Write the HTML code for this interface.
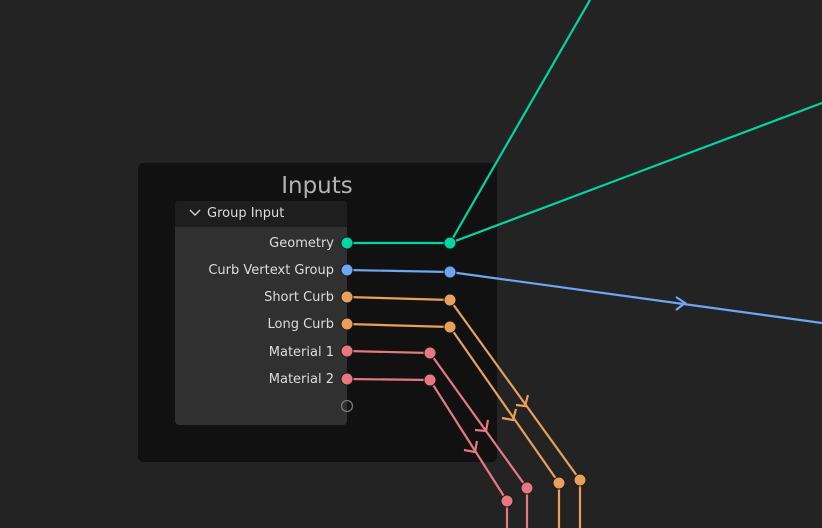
<!DOCTYPE html>
<html><head><style>
html,body{margin:0;padding:0;background:#232323;width:822px;height:528px;overflow:hidden;font-family:"Liberation Sans","DejaVu Sans",sans-serif}
</style></head><body>
<svg width="822" height="528" viewBox="0 0 822 528" xmlns="http://www.w3.org/2000/svg" style="position:absolute;left:0;top:0">
<rect x="0" y="0" width="822" height="528" fill="#232323"/>
<rect x="138" y="163" width="359" height="299" rx="5" fill="#111111"/>
<text x="317" y="193" font-size="23" fill="#b3b3b3" text-anchor="middle" font-family="DejaVu Sans, sans-serif">Inputs</text>
<rect x="175" y="201" width="172" height="224" rx="4" fill="#303030"/>
<path d="M179 201 H343 a4 4 0 0 1 4 4 V227 H175 V205 a4 4 0 0 1 4 -4z" fill="#1e1e1e"/>
<polyline points="190,210 195,215 200,210" fill="none" stroke="#d0d0d0" stroke-width="1.4"/>
<g font-family="DejaVu Sans, sans-serif" font-size="13" fill="#dcdcdc">
<text x="207" y="217">Group Input</text>
<g text-anchor="end">
<text x="334" y="247">Geometry</text>
<text x="334" y="274">Curb Vertext Group</text>
<text x="334" y="301">Short Curb</text>
<text x="334" y="328">Long Curb</text>
<text x="334" y="356">Material 1</text>
<text x="334" y="383">Material 2</text>
</g></g>
<g fill="none" stroke-width="2.2">
<polyline points="347,243 450,243" stroke="#00d6a3"/>
<line x1="450" y1="243" x2="590" y2="0" stroke="#00d6a3"/>
<line x1="450" y1="243" x2="822" y2="103" stroke="#00d6a3"/>
<polyline points="347,270 450,272 822,323" stroke="#6ea6f4"/>
<polyline points="676,297 685,303 676,310" stroke="#6ea6f4"/>
<polyline points="347,297 450,300 580,480 580,528" stroke="#e8a05a"/>
<polyline points="347,324 450,327 559,483 559,528" stroke="#e8a05a"/>
<polyline points="347,351 430,353 527,488 527,528" stroke="#e77882"/>
<polyline points="347,379 430,380 507,501 507,528" stroke="#e77882"/>
<polyline points="528,395 525,406 516,405" stroke="#e8a05a"/>
<polyline points="516,409 513,420 502,418" stroke="#e8a05a"/>
<polyline points="488,420 486,431 475,430" stroke="#e77882"/>
<polyline points="477,441 475,452 464,450" stroke="#e77882"/>
</g>
<g stroke="#1a1a1a" stroke-width="1">
<circle cx="347" cy="243" r="6" fill="#00d6a3"/>
<circle cx="450" cy="243" r="6" fill="#00d6a3"/>
<circle cx="347" cy="270" r="6" fill="#6ea6f4"/>
<circle cx="450" cy="272" r="6" fill="#6ea6f4"/>
<circle cx="347" cy="297" r="6" fill="#e8a05a"/>
<circle cx="450" cy="300" r="6" fill="#e8a05a"/>
<circle cx="347" cy="324" r="6" fill="#e8a05a"/>
<circle cx="450" cy="327" r="6" fill="#e8a05a"/>
<circle cx="347" cy="351" r="6" fill="#e77882"/>
<circle cx="430" cy="353" r="6" fill="#e77882"/>
<circle cx="347" cy="379" r="6" fill="#e77882"/>
<circle cx="430" cy="380" r="6" fill="#e77882"/>
<circle cx="580" cy="480" r="6" fill="#e8a05a"/>
<circle cx="559" cy="483" r="6" fill="#e8a05a"/>
<circle cx="527" cy="488" r="6" fill="#e77882"/>
<circle cx="507" cy="501" r="6" fill="#e77882"/>
</g>
<circle cx="347" cy="406" r="5.5" fill="none" stroke="#777" stroke-width="1.3"/>
</svg>
</body></html>
